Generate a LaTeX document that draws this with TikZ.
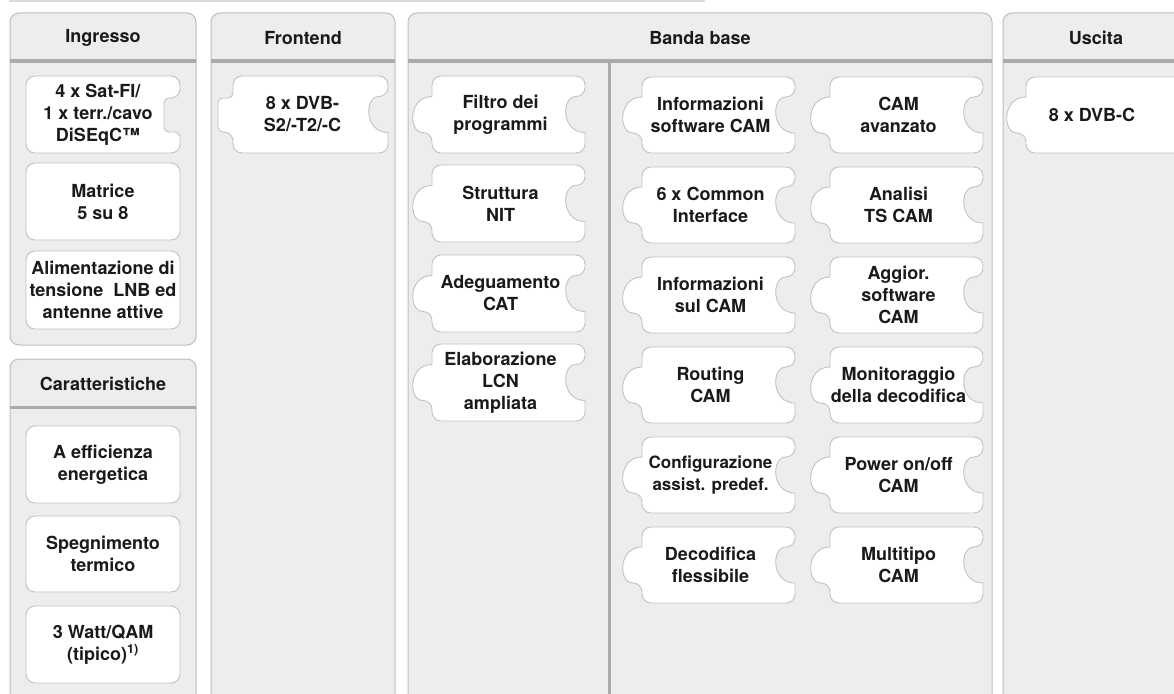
\documentclass[tikz,border=0pt]{standalone}
\usepackage{fontspec}
\setmainfont{TeX Gyre Heros}
\usetikzlibrary{calc}

\definecolor{panelfill}{HTML}{ECEDEF}
\definecolor{panelline}{HTML}{BDBDBD}
\definecolor{headgrey}{HTML}{ABABAB}
\definecolor{pieceline}{HTML}{C2C2C2}
\definecolor{txtgrey}{HTML}{1A1A1A}

\tikzset{
  panel/.style={fill=panelfill, draw=panelline, line width=1pt, rounded corners=9pt},
  headline/.style={draw=headgrey, line width=3pt},
  piece/.style={fill=white, draw=pieceline, line width=0.9pt},
  lbl/.style={font=\bfseries\fontsize{18}{22}\selectfont, align=center, text=txtgrey, inner sep=0pt}
}

% puzzle piece with round tab (left) and round notch (right)
\newcommand{\puzzlepiece}[6]{%
  \pgfmathsetmacro{\pcy}{(#3+#5)/2}%
  \pgfmathsetmacro{\pcx}{(#2+#4)/2-8}%
  \draw[piece] (#2,\pcy-18) [rounded corners=9pt] -- (#2,#3) -- (#4,#3) -- (#4,\pcy-18) [sharp corners]
    .. controls (#4-24,\pcy-18) and (#4-24,\pcy+18) .. (#4,\pcy+18) [rounded corners=9pt]
    -- (#4,#5) -- (#2,#5) -- (#2,\pcy+18) [sharp corners]
    .. controls (#2-24,\pcy+18) and (#2-24,\pcy-18) .. (#2,\pcy-18) -- cycle;
  \node[lbl] (#1) at (\pcx,\pcy) {#6};}

\begin{document}
\begin{tikzpicture}[x=1pt,y=-1pt]

  \useasboundingbox (0,0) rectangle (1174,693);
  \clip (0,0) rectangle (1174,693);

  \draw[draw=panelline!55, line width=1.2pt] (9,1) -- (705,1);

  % panels

  \draw[panel] (10,13) rectangle (196,345);
  \draw[panel] (10,359) rectangle (196,720);
  \draw[panel] (211,13) rectangle (395,720);
  \draw[panel] (408,13) rectangle (992,720);
  \draw[panel] (1003,13) rectangle (1200,720);

  \draw[headline] (10,61) -- (196,61);
  \draw[headline] (10,407) -- (196,407);
  \draw[headline] (211,61) -- (395,61);
  \draw[headline] (408,61) -- (992,61);
  \draw[headline] (609,61) -- (609,720);
  \draw[headline] (1003,61) -- (1200,61);

  \node[lbl] (ingresso) at (103,38) {Ingresso};
  \node[lbl] (caratt) at (103,384) {Caratteristiche};
  \node[lbl] (frontend) at (303,38) {Frontend};
  \node[lbl] (banda) at (700,38) {Banda base};
  \node[lbl] (uscita) at (1096,38) {Uscita};

  % Ingresso

  \draw[piece] (26,114) [rounded corners=9pt] -- (26,76) -- (180,76) -- (180,98) [rounded corners=5pt]
    -- (164,98) -- (164,132) -- (180,132) [rounded corners=9pt] -- (180,153) -- (26,153) -- cycle;
  \node[lbl] (sat) at (98,114.5) {4 x Sat-FI/\\1 x terr./cavo\\DiSEqC™};

  \draw[piece, rounded corners=9pt] (26,163) rectangle (180,240);
  \node[lbl] (matrice) at (103,201.5) {Matrice\\5 su 8};

  \draw[piece, rounded corners=9pt] (26,251) rectangle (180,329);
  \node[lbl] (aliment) at (103,290) {Alimentazione di\\tensione~ LNB ed\\antenne attive};

  % Caratteristiche

  \draw[piece, rounded corners=9pt] (26,426) rectangle (180,503);
  \node[lbl] (effic) at (103,464.5) {A efficienza\\energetica};

  \draw[piece, rounded corners=9pt] (26,516) rectangle (180,592);
  \node[lbl] (spegn) at (103,554) {Spegnimento\\termico};

  \draw[piece, rounded corners=9pt] (26,606) rectangle (180,683);
  \node[lbl] (watt) at (103,644.5) {3 Watt/QAM\\(tipico)\textsuperscript{1)}};

  % Frontend

  \draw[piece] (233,98) [rounded corners=9pt] -- (233,76) -- (388,76) -- (388,96.5) [sharp corners]
    .. controls (364,96.5) and (364,132.5) .. (388,132.5) [rounded corners=9pt] -- (388,153) -- (233,153)
    -- (233,132) [rounded corners=5pt] -- (218,132) -- (218,98) -- cycle;
  \node[lbl] (dvbs) at (302.5,114.5) {8 x DVB-\\S2/-T2/-C};

  % Banda base, left column

  \puzzlepiece{filtro}{432}{76}{585}{153}{Filtro dei\\programmi}
  \puzzlepiece{nit}{432}{165}{585}{242}{Struttura\\NIT}
  \puzzlepiece{cat}{432}{255}{585}{332}{Adeguamento\\CAT}
  \puzzlepiece{lcn}{432}{344}{585}{421}{Elaborazione\\LCN\\ampliata}

  % Banda base, CAM columns

  \puzzlepiece{swcam}{642}{77}{795}{153}{Informazioni\\software CAM}
  \puzzlepiece{ci}{642}{167}{795}{243}{6 x Common\\Interface}
  \puzzlepiece{infocam}{642}{257}{795}{333}{Informazioni\\sul CAM}
  \puzzlepiece{routing}{642}{347}{795}{423}{Routing\\CAM}
  \puzzlepiece{config}{642}{437}{795}{513}{{\fontsize{17}{22}\selectfont Configurazione}\\{\fontsize{17}{22}\selectfont assist. predef.}}
  \puzzlepiece{decod}{642}{527}{795}{603}{Decodifica\\flessibile}

  \puzzlepiece{camav}{830}{77}{983}{153}{CAM\\avanzato}
  \puzzlepiece{tscam}{830}{167}{983}{243}{Analisi\\TS CAM}
  \puzzlepiece{aggior}{830}{257}{983}{333}{Aggior.\\software\\CAM}
  \puzzlepiece{monitor}{830}{347}{983}{423}{Monitoraggio\\della decodifica}
  \puzzlepiece{power}{830}{437}{983}{513}{Power on/off\\CAM}
  \puzzlepiece{multi}{830}{527}{983}{603}{Multitipo\\CAM}

  % Uscita

  \draw[piece] (1026,97) [rounded corners=9pt] -- (1026,77) -- (1200,77) -- (1200,153) -- (1026,153)
    -- (1026,133) [sharp corners] .. controls (1002,133) and (1002,97) .. (1026,97) -- cycle;
  \node[lbl] (dvbc) at (1092,115) {8 x DVB-C};

\end{tikzpicture}
\end{document}
